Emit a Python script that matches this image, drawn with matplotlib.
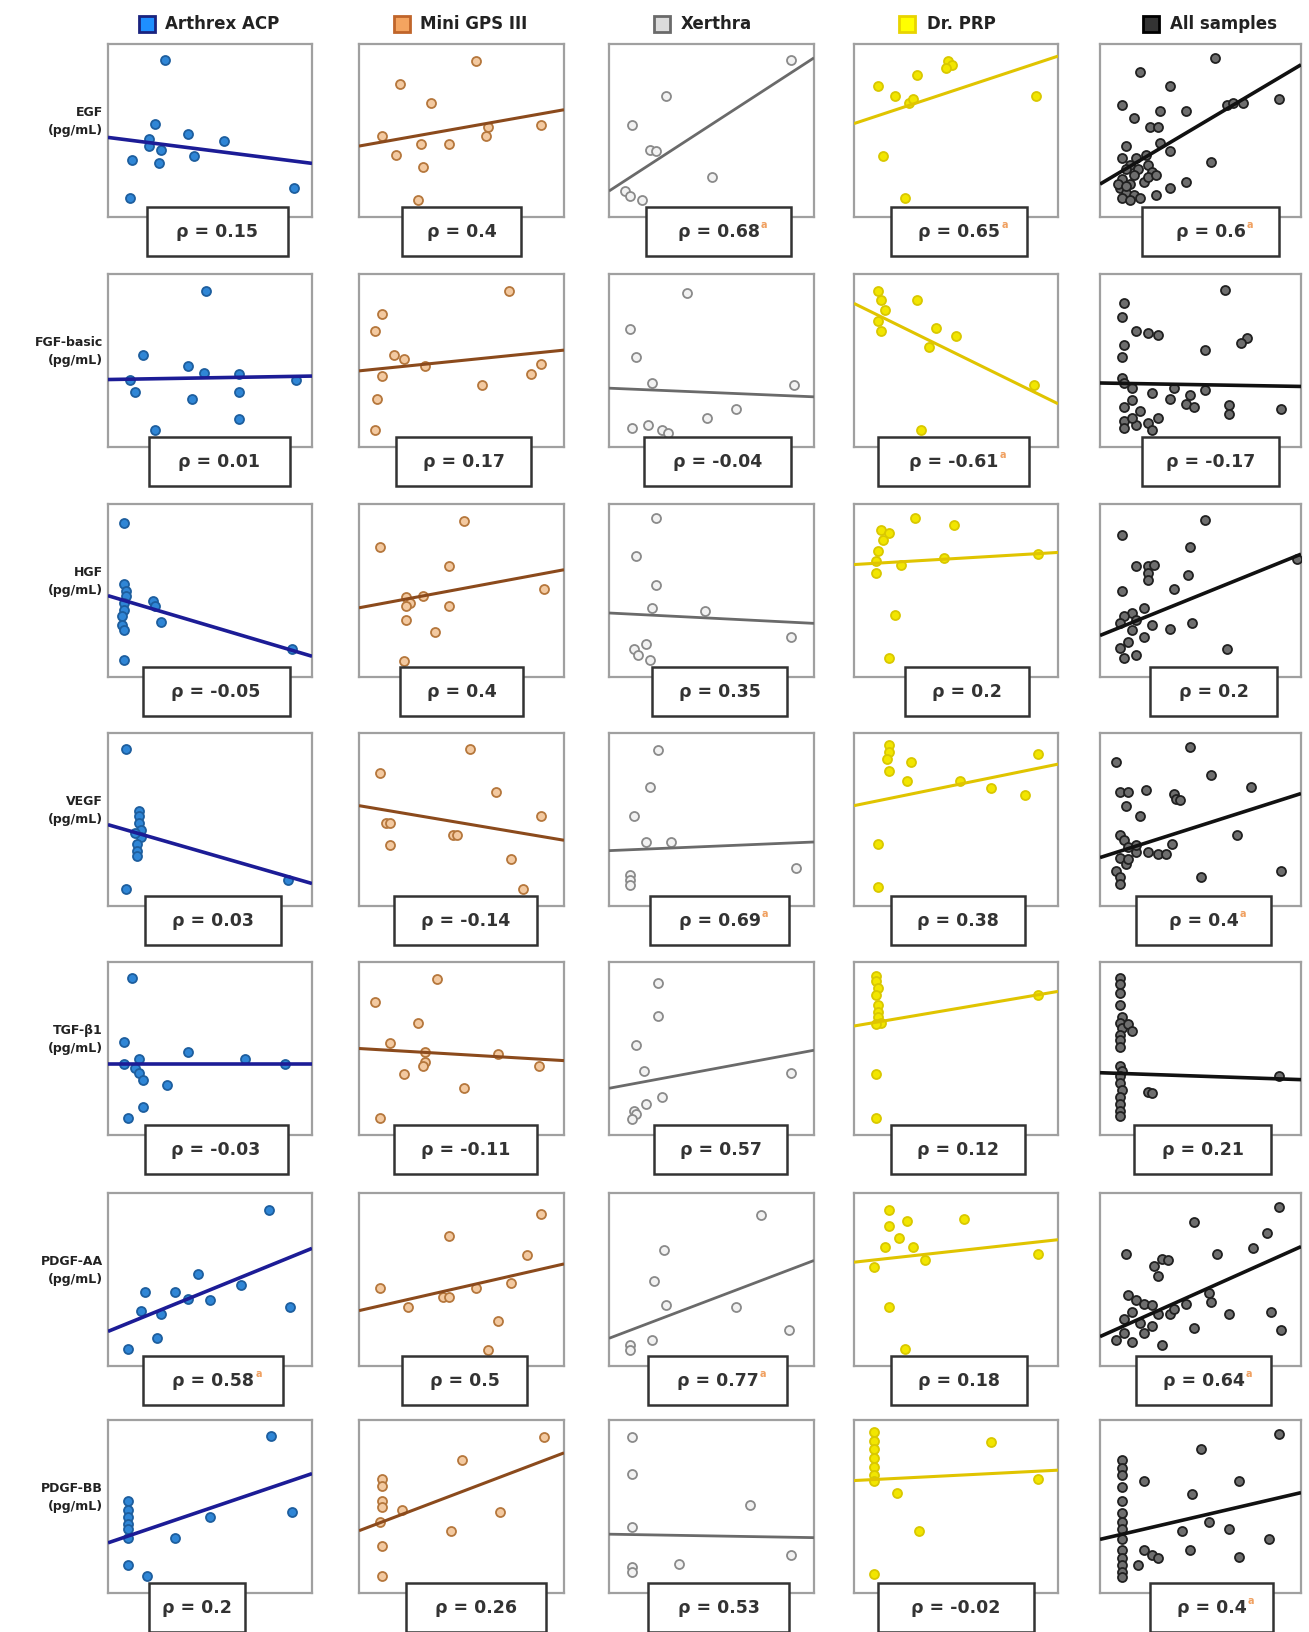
import matplotlib
matplotlib.use("Agg")
import matplotlib.pyplot as plt
from matplotlib.patches import Rectangle

plt.rcParams['font.family'] = ['DejaVu Sans']

devices = ["Arthrex ACP", "Mini GPS III", "Xerthra", "Dr. PRP", "All samples"]
factors = ["EGF", "FGF-basic", "HGF", "VEGF", "TGF-β1", "PDGF-AA", "PDGF-BB"]
unit = "(pg/mL)"

# ---------------- EGF ----------------
egf_acp_x = [28, 23, 39, 57, 20, 20, 26, 12, 25, 42, 11, 91]
egf_acp_y = [91, 54, 48, 44, 45, 41, 39, 33, 31, 35, 11, 17]
egf_gps_x = [57, 20, 35, 11, 30, 44, 18, 31, 29, 63, 62, 89]
egf_gps_y = [90, 77, 66, 47, 42, 42, 36, 29, 10, 52, 47, 53]
egf_xer_x = [89, 28, 11, 20, 23, 50, 8, 10, 16]
egf_xer_y = [91, 70, 53, 39, 38, 23, 15, 12, 10]
egf_prp_x = [46, 48, 45, 31, 12, 20, 27, 29, 89, 14, 25]
egf_prp_y = [90, 88, 86, 82, 76, 70, 66, 68, 70, 35, 11]
egf_all_x = [57, 20, 35, 11, 30, 43, 17, 25, 29, 63, 66, 71, 89, 55, 30, 35, 13, 35, 43,
             11, 15, 19, 24, 26, 17, 11, 15, 22, 10, 13, 17, 11, 15, 20, 24, 28, 13, 18, 23, 9, 28, 13]
egf_all_y = [92, 84, 76, 65, 61, 61, 57, 52, 52, 65, 66, 66, 68, 32, 43, 38, 41, 17, 20,
             34, 30, 28, 30, 26, 24, 22, 19, 20, 17, 14, 13, 11, 10, 11, 23, 24, 28, 34, 36, 19, 13, 18]
egf_fit = [(46, 31), (41, 62), (15, 92), (54, 93), (19, 88)]
egf_rho = ["0.15", "0.4", "0.68", "0.65", "0.6"]
egf_sig = [False, False, True, True, True]

# ---------------- FGF-basic ----------------
fgf_acp_x = [48, 17, 39, 47, 11, 13, 64, 64, 41, 92, 23, 64]
fgf_acp_y = [90, 53, 47, 43, 39, 32, 42, 32, 28, 39, 10, 16]
fgf_gps_x = [73, 11, 8, 17, 22, 32, 11, 9, 8, 60, 84, 89]
fgf_gps_y = [90, 77, 67, 53, 51, 47, 41, 28, 10, 36, 42, 48]
fgf_xer_x = [38, 10, 13, 21, 90, 62, 48, 11, 19, 26, 29]
fgf_xer_y = [89, 68, 52, 37, 36, 22, 17, 11, 13, 10, 8]
fgf_prp_x = [12, 13, 15, 12, 13, 31, 40, 50, 37, 88, 33]
fgf_prp_y = [90, 85, 79, 73, 67, 85, 69, 64, 58, 36, 10]
fgf_all_x = [62, 12, 11, 18, 24, 29, 12, 73, 70, 52, 11, 11, 12, 16, 26, 35, 43, 47, 37, 52, 45,
             16, 12, 20, 12, 18, 24, 12, 26, 29, 16, 64, 64, 90]
fgf_all_y = [91, 83, 75, 67, 66, 65, 59, 63, 60, 56, 52, 40, 37, 34, 31, 28, 25, 23, 34, 33, 30,
             27, 23, 21, 15, 13, 14, 11, 10, 17, 17, 24, 19, 22]
fgf_fit = [(39, 41), (44, 56), (34, 29), (83, 25), (37, 35)]
fgf_rho = ["0.01", "0.17", "-0.04", "-0.61", "-0.17"]
fgf_sig = [False, False, False, True, False]

# ---------------- HGF ----------------
hgf_acp_x = [8, 8, 9, 9, 8, 8, 7, 7, 8, 22, 23, 26, 8, 90]
hgf_acp_y = [89, 54, 50, 47, 43, 39, 35, 30, 27, 44, 41, 32, 10, 16]
hgf_gps_x = [51, 10, 44, 23, 25, 31, 23, 23, 44, 37, 90, 22]
hgf_gps_y = [90, 75, 64, 46, 43, 47, 41, 33, 41, 26, 51, 9]
hgf_xer_x = [23, 13, 23, 21, 47, 89, 18, 12, 14, 20]
hgf_xer_y = [92, 70, 53, 40, 38, 23, 19, 16, 13, 10]
hgf_prp_x = [30, 49, 13, 17, 14, 12, 11, 11, 23, 44, 90, 20, 17]
hgf_prp_y = [92, 88, 85, 83, 79, 73, 67, 60, 65, 69, 71, 36, 11]
hgf_all_x = [52, 11, 45, 18, 24, 27, 24, 24, 44, 37, 11, 22, 16, 12, 18, 10, 16, 22, 14, 10, 18, 12,
             26, 35, 46, 63, 98]
hgf_all_y = [91, 82, 75, 64, 64, 65, 60, 56, 59, 51, 50, 40, 37, 35, 33, 31, 27, 23, 20, 17, 13, 11,
             30, 28, 31, 16, 68]
hgf_fit = [(47, 12), (40, 62), (37, 31), (65, 72), (24, 71)]
hgf_rho = ["-0.05", "0.4", "0.35", "0.2", "0.2"]
hgf_sig = [False, False, False, False, False]

# ---------------- VEGF ----------------
vegf_acp_x = [9, 15, 15, 15, 16, 16, 14, 14, 14, 13, 9, 88]
vegf_acp_y = [91, 55, 52, 48, 44, 40, 36, 32, 29, 42, 10, 15]
vegf_gps_x = [54, 10, 67, 13, 15, 89, 46, 48, 15, 74, 80]
vegf_gps_y = [91, 77, 66, 48, 48, 52, 41, 41, 35, 27, 10]
vegf_xer_x = [24, 20, 12, 18, 30, 91, 10, 10, 10]
vegf_xer_y = [90, 69, 52, 37, 37, 22, 18, 15, 12]
vegf_prp_x = [17, 17, 16, 28, 17, 26, 52, 67, 84, 90, 12, 12]
vegf_prp_y = [93, 89, 85, 83, 78, 72, 72, 68, 64, 88, 36, 11]
vegf_all_x = [45, 8, 55, 10, 14, 23, 37, 38, 40, 75, 13, 20, 68, 36, 50, 90,
              10, 12, 14, 18, 10, 13, 8, 10, 10, 24, 29, 33, 18, 14]
vegf_all_y = [92, 83, 76, 66, 66, 67, 65, 62, 61, 69, 58, 52, 41, 36, 17, 20,
              41, 38, 34, 31, 28, 24, 20, 17, 13, 31, 30, 30, 35, 27]
vegf_fit = [(47, 13), (58, 38), (32, 37), (58, 82), (28, 65)]
vegf_rho = ["0.03", "-0.14", "0.69", "0.38", "0.4"]
vegf_sig = [False, False, True, False, True]

# ---------------- TGF-β1 ----------------
tgf_acp_x = [12, 8, 39, 67, 15, 8, 13, 15, 17, 29, 17, 10, 87]
tgf_acp_y = [91, 54, 48, 44, 44, 41, 39, 36, 32, 29, 16, 10, 41]
tgf_gps_x = [38, 8, 29, 15, 32, 32, 31, 22, 68, 88, 51, 10]
tgf_gps_y = [90, 77, 65, 53, 48, 42, 40, 35, 47, 40, 27, 10]
tgf_xer_x = [24, 24, 13, 17, 89, 26, 18, 12, 13, 11]
tgf_xer_y = [88, 69, 52, 37, 36, 22, 18, 14, 12, 9]
tgf_prp_x = [11, 11, 12, 11, 12, 12, 12, 13, 11, 90, 11, 11]
tgf_prp_y = [92, 89, 85, 81, 75, 71, 68, 65, 64, 81, 35, 10]
tgf_all_x = [10, 10, 10, 10, 11, 10, 11, 10, 10, 10, 10, 11, 10, 10, 11, 10, 10, 10, 10,
             14, 16, 24, 26, 89]
tgf_all_y = [91, 87, 82, 75, 68, 65, 62, 58, 55, 51, 40, 37, 34, 30, 26, 22, 18, 14, 11,
             64, 60, 25, 24, 34]
tgf_fit = [(41, 41), (50, 43), (27, 49), (63, 83), (36, 32)]
tgf_rho = ["-0.03", "-0.11", "0.57", "0.12", "0.21"]
tgf_sig = [False, False, False, False, False]

# ---------------- PDGF-AA ----------------
aa_acp_x = [79, 44, 18, 33, 39, 50, 65, 16, 26, 89, 24, 10]
aa_acp_y = [90, 53, 43, 43, 39, 38, 47, 32, 30, 34, 16, 10]
aa_gps_x = [89, 44, 82, 10, 74, 57, 41, 44, 24, 68, 63]
aa_gps_y = [88, 75, 64, 45, 48, 45, 40, 40, 34, 26, 9]
aa_xer_x = [74, 27, 22, 28, 62, 88, 21, 10, 10]
aa_xer_y = [87, 67, 49, 35, 34, 21, 15, 12, 9]
aa_prp_x = [17, 26, 17, 22, 15, 29, 35, 10, 54, 90, 17, 25]
aa_prp_y = [90, 84, 81, 74, 69, 69, 61, 57, 85, 65, 34, 10]
aa_all_x = [89, 47, 13, 31, 34, 58, 76, 83, 27, 29, 54, 55, 64, 85, 90, 47, 31,
            14, 18, 22, 26, 16, 12, 20, 26, 29, 35, 37, 43, 12, 8, 16, 22]
aa_all_y = [92, 83, 65, 62, 61, 65, 68, 77, 58, 52, 42, 37, 30, 31, 21, 22, 12,
            41, 38, 36, 35, 31, 27, 25, 23, 30, 30, 33, 36, 19, 15, 14, 19]
aa_fit = [(20, 68), (32, 59), (16, 61), (60, 73), (17, 69)]
aa_rho = ["0.58", "0.5", "0.77", "0.18", "0.64"]
aa_sig = [True, False, True, False, True]

# ---------------- PDGF-BB ----------------
bb_acp_x = [80, 10, 10, 10, 10, 10, 10, 50, 90, 33, 10, 19]
bb_acp_y = [91, 53, 48, 44, 40, 37, 32, 44, 47, 32, 16, 10]
bb_gps_x = [90, 50, 11, 11, 11, 11, 21, 10, 69, 45, 11, 11]
bb_gps_y = [90, 77, 66, 62, 53, 50, 48, 41, 47, 36, 27, 10]
bb_xer_x = [11, 11, 69, 11, 34, 89, 11, 11]
bb_xer_y = [90, 69, 51, 38, 17, 22, 15, 12]
bb_prp_x = [10, 10, 10, 10, 10, 10, 10, 67, 90, 21, 32, 10]
bb_prp_y = [93, 88, 83, 78, 73, 68, 65, 87, 66, 58, 36, 11]
bb_all_x = [89, 50, 69, 22, 46, 54, 64, 41, 84, 45, 69,
            11, 11, 11, 11, 11, 11, 11, 11, 11, 11, 11, 11, 11, 11, 22, 26, 29, 19]
bb_all_y = [92, 83, 65, 65, 57, 41, 37, 36, 31, 25, 21,
            77, 72, 68, 61, 53, 46, 41, 37, 31, 25, 20, 16, 12, 9, 25, 22, 20, 16]
bb_fit = [(29, 69), (36, 81), (34, 32), (65, 71), (31, 58)]
bb_rho = ["0.2", "0.26", "0.53", "-0.02", "0.4"]
bb_sig = [False, False, False, False, True]

rows = [
    ([(egf_acp_x, egf_acp_y), (egf_gps_x, egf_gps_y), (egf_xer_x, egf_xer_y), (egf_prp_x, egf_prp_y), (egf_all_x, egf_all_y)], egf_fit, egf_rho, egf_sig),
    ([(fgf_acp_x, fgf_acp_y), (fgf_gps_x, fgf_gps_y), (fgf_xer_x, fgf_xer_y), (fgf_prp_x, fgf_prp_y), (fgf_all_x, fgf_all_y)], fgf_fit, fgf_rho, fgf_sig),
    ([(hgf_acp_x, hgf_acp_y), (hgf_gps_x, hgf_gps_y), (hgf_xer_x, hgf_xer_y), (hgf_prp_x, hgf_prp_y), (hgf_all_x, hgf_all_y)], hgf_fit, hgf_rho, hgf_sig),
    ([(vegf_acp_x, vegf_acp_y), (vegf_gps_x, vegf_gps_y), (vegf_xer_x, vegf_xer_y), (vegf_prp_x, vegf_prp_y), (vegf_all_x, vegf_all_y)], vegf_fit, vegf_rho, vegf_sig),
    ([(tgf_acp_x, tgf_acp_y), (tgf_gps_x, tgf_gps_y), (tgf_xer_x, tgf_xer_y), (tgf_prp_x, tgf_prp_y), (tgf_all_x, tgf_all_y)], tgf_fit, tgf_rho, tgf_sig),
    ([(aa_acp_x, aa_acp_y), (aa_gps_x, aa_gps_y), (aa_xer_x, aa_xer_y), (aa_prp_x, aa_prp_y), (aa_all_x, aa_all_y)], aa_fit, aa_rho, aa_sig),
    ([(bb_acp_x, bb_acp_y), (bb_gps_x, bb_gps_y), (bb_xer_x, bb_xer_y), (bb_prp_x, bb_prp_y), (bb_all_x, bb_all_y)], bb_fit, bb_rho, bb_sig),
]

# layout: rho box horizontal extents (axes fraction) per row/column
box_l = [[0.19, 0.21, 0.18, 0.18, 0.21],
         [0.20, 0.18, 0.17, 0.12, 0.21],
         [0.17, 0.20, 0.21, 0.25, 0.25],
         [0.18, 0.17, 0.20, 0.18, 0.18],
         [0.18, 0.17, 0.22, 0.18, 0.17],
         [0.17, 0.21, 0.19, 0.18, 0.18],
         [0.20, 0.23, 0.19, 0.12, 0.25]]
box_r = [[0.88, 0.79, 0.89, 0.85, 0.89],
         [0.89, 0.84, 0.89, 0.86, 0.89],
         [0.89, 0.80, 0.87, 0.86, 0.88],
         [0.85, 0.87, 0.88, 0.84, 0.85],
         [0.88, 0.87, 0.87, 0.84, 0.85],
         [0.86, 0.82, 0.87, 0.85, 0.85],
         [0.67, 0.91, 0.88, 0.88, 0.86]]

# styles
marker_face = ["#2f86d6", "#f3c9a0", "#f2f2f2", "#f2e600", "#6e6e6e"]
marker_edge = ["#1d5e9e", "#b5773c", "#8a8a8a", "#d9c800", "#202020"]
line_color = ["#1c1c96", "#8b4a1c", "#6a6a6a", "#e0c400", "#111111"]
line_width = [2.6, 2.2, 2.0, 2.2, 2.6]
head_face = ["#1e8fff", "#f4a460", "#dcdcdc", "#ffff00", "#333333"]
head_edge = ["#1a237e", "#c0652a", "#6a6a6a", "#e8d400", "#000000"]
head_sq_x = [0.19, 0.21, 0.26, 0.26, 0.255]
head_tx_x = [0.28, 0.30, 0.35, 0.36, 0.35]

W, H = 1309, 1632
fig = plt.figure(figsize=(W / 100, H / 100), dpi=100)

col_left = [108, 359, 609, 854, 1100]
col_w = [204, 205, 205, 204, 201]
row_top = [44, 274, 504, 733, 962, 1193, 1420]
row_h = 173

for r, (pts, fits, rhos, sigs) in enumerate(rows):
    for c in range(5):
        ax = fig.add_axes([col_left[c] / W, 1 - (row_top[r] + row_h) / H,
                           col_w[c] / W, row_h / H])
        ax.set_xlim(0, 100)
        ax.set_ylim(0, 100)
        ax.set_xticks([])
        ax.set_yticks([])
        for s in ax.spines.values():
            s.set_color("#a0a0a0")
            s.set_linewidth(1.6)
        xs, ys = pts[c]
        ax.scatter(xs, ys, s=42, facecolor=marker_face[c], edgecolor=marker_edge[c],
                   linewidth=1.3, zorder=3)
        y0, y1 = fits[c]
        ax.plot([0, 100], [y0, y1], color=line_color[c], lw=line_width[c], zorder=4,
                solid_capstyle="butt")
        # rho box
        bl, br = box_l[r][c], box_r[r][c]
        ax.add_patch(Rectangle((bl, -0.225), br - bl, 0.285, transform=ax.transAxes,
                               facecolor="white", edgecolor="#333333", lw=1.8,
                               clip_on=False, zorder=6))
        t = ax.text((bl + br) / 2, -0.085, "ρ = " + rhos[c], transform=ax.transAxes,
                    ha="center", va="center", fontsize=12.5, fontweight="bold",
                    color="#333333", zorder=7)
        if sigs[c]:
            ax.annotate("a", xy=(1.0, 0.9), xycoords=t, xytext=(1, 0),
                        textcoords="offset points", fontsize=7, color="#f0a060",
                        ha="left", va="center", zorder=7, fontweight="bold")
        if c == 0:
            ax.text(-0.025, 0.55, factors[r] + "\n" + unit, transform=ax.transAxes,
                    ha="right", va="center", fontsize=9, fontweight="bold",
                    color="#222222", linespacing=1.5)
        if r == 0:
            ax.plot([head_sq_x[c]], [1.115], marker="s", markersize=11,
                    markerfacecolor=head_face[c], markeredgecolor=head_edge[c],
                    markeredgewidth=2, transform=ax.transAxes, clip_on=False)
            ax.text(head_tx_x[c], 1.115, devices[c], transform=ax.transAxes,
                    ha="left", va="center", fontsize=12, fontweight="bold",
                    color="#222222")

fig.savefig("out.png", dpi=100, facecolor="white")
